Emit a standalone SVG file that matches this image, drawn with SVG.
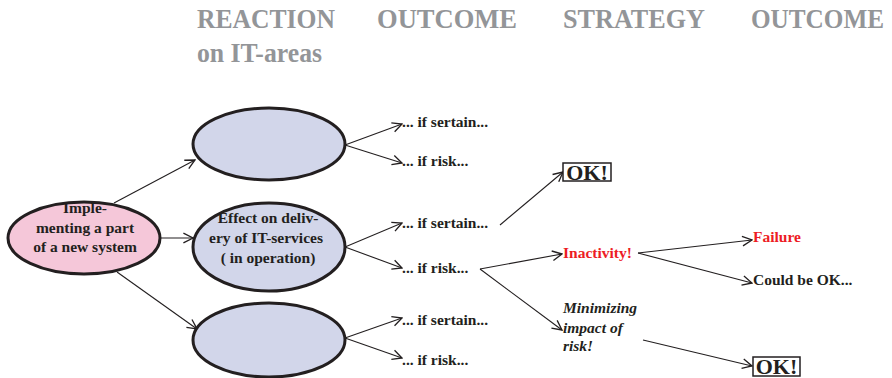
<svg xmlns="http://www.w3.org/2000/svg" width="892" height="378" viewBox="0 0 892 378">
<style>
.hdr{font-family:"Liberation Serif","Times New Roman",serif;font-weight:bold;font-size:27px;fill:#939598}
.t{font-family:"Liberation Serif","Times New Roman",serif;font-weight:bold;font-size:15.5px;fill:#231f20}
.tm{text-anchor:middle}
.red{fill:#ed1c24}
.it{font-style:italic}
.ok{font-family:"Liberation Serif","Times New Roman",serif;font-weight:bold;font-size:22px;fill:#231f20}
.pink{fill:#f5c7d9;stroke:#231f20;stroke-width:3}
.blue{fill:#d2d6ea;stroke:#231f20;stroke-width:3}
.box{fill:#fff;stroke:#231f20;stroke-width:1.5}
.c line{stroke:#231f20;stroke-width:1.1;marker-end:url(#a)}
</style>
<defs>
<marker id="a" markerUnits="userSpaceOnUse" markerWidth="12" markerHeight="12" refX="8" refY="4" orient="auto" viewBox="-1 -1 10 10">
<path d="M0,0 L8,4 L0,8" fill="none" stroke="#231f20" stroke-width="1.1"/>
</marker>
</defs>
<g id="header">
<text class="hdr" x="197" y="28" textLength="138" lengthAdjust="spacingAndGlyphs">REACTION</text>
<text class="hdr" x="377" y="28" textLength="140" lengthAdjust="spacingAndGlyphs">OUTCOME</text>
<text class="hdr" x="563" y="28" textLength="142" lengthAdjust="spacingAndGlyphs">STRATEGY</text>
<text class="hdr" x="751" y="28" textLength="133" lengthAdjust="spacingAndGlyphs">OUTCOME</text>
<text class="hdr" x="197" y="62" textLength="125" lengthAdjust="spacingAndGlyphs">on IT-areas</text>
</g>
<g class="c" id="connectors">
<line x1="114" y1="203" x2="195" y2="160"/>
<line x1="160" y1="238" x2="193" y2="238"/>
<line x1="117" y1="272" x2="197" y2="329"/>
<line x1="345" y1="145" x2="402" y2="124"/>
<line x1="345" y1="145" x2="402" y2="163"/>
<line x1="345" y1="247" x2="402" y2="223"/>
<line x1="345" y1="247" x2="402" y2="268"/>
<line x1="345" y1="338" x2="402" y2="318"/>
<line x1="345" y1="338" x2="402" y2="358"/>
<line x1="500" y1="225" x2="563" y2="172"/>
<line x1="480" y1="269" x2="562" y2="254"/>
<line x1="480" y1="269" x2="562" y2="330"/>
<line x1="638" y1="253" x2="752" y2="240"/>
<line x1="638" y1="253" x2="752" y2="283"/>
<line x1="643" y1="340" x2="752" y2="366"/>
</g>
<g id="n-impl">
<ellipse class="pink" cx="84" cy="238" rx="76" ry="36"/>
<text class="t tm" x="85" y="213">Imple-</text>
<text class="t tm" x="85" y="233">menting a part</text>
<text class="t tm" x="85" y="252">of a new system</text>
</g>
<g id="n-top">
<ellipse class="blue" cx="269" cy="144" rx="76" ry="36"/>
</g>
<g id="n-mid">
<ellipse class="blue" cx="269" cy="247" rx="76" ry="44"/>
<text class="t tm" x="268" y="223">Effect on deliv-</text>
<text class="t tm" x="266" y="243">ery of IT-services</text>
<text class="t tm" x="268" y="263">( in operation)</text>
</g>
<g id="n-bot">
<ellipse class="blue" cx="269" cy="340" rx="76" ry="37"/>
</g>
<g id="n-top-s"><text class="t" x="402" y="127">... if sertain...</text></g>
<g id="n-top-r"><text class="t" x="402" y="166">... if risk...</text></g>
<g id="n-mid-s"><text class="t" x="402" y="228">... if sertain...</text></g>
<g id="n-mid-r"><text class="t" x="402" y="273">... if risk...</text></g>
<g id="n-bot-s"><text class="t" x="402" y="325">... if sertain...</text></g>
<g id="n-bot-r"><text class="t" x="402" y="365">... if risk...</text></g>
<g id="n-ok1">
<rect class="box" x="563" y="163" width="48" height="18"/>
<text class="ok tm" x="587" y="180">OK!</text>
</g>
<g id="n-inact"><text class="t red" x="563" y="258">Inactivity!</text></g>
<g id="n-min">
<text class="t it" x="563" y="313">Minimizing</text>
<text class="t it" x="563" y="333">impact of</text>
<text class="t it" x="563" y="351">risk!</text>
</g>
<g id="n-fail"><text class="t red" x="753" y="242">Failure</text></g>
<g id="n-could"><text class="t" x="753" y="285">Could be OK...</text></g>
<g id="n-ok2">
<rect class="box" x="753" y="357" width="47" height="19"/>
<text class="ok tm" x="776.5" y="374">OK!</text>
</g>
</svg>
